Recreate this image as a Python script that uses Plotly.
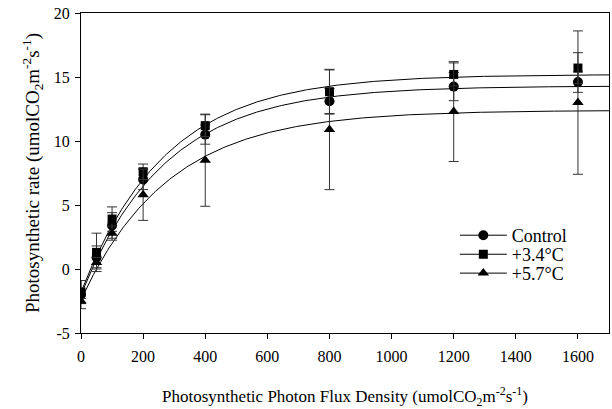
import numpy as np
import plotly.graph_objects as go

# ---- data ----
ppfd = [0, 50, 100, 200, 400, 800, 1200, 1600]

control = [-2.0, 0.9, 3.4, 7.0, 10.5, 13.1, 14.25, 14.6]
control_err = [1.1, 0.9, 1.0, 0.8, 0.75, 1.0, 1.1, 0.8]

warm34 = [-1.8, 1.3, 3.9, 7.6, 11.2, 13.85, 15.2, 15.7]
warm34_err = [0.9, 1.5, 0.95, 0.6, 0.85, 1.7, 0.9, 1.2]

warm57 = [-2.5, 0.5, 2.8, 5.8, 8.5, 10.9, 12.3, 13.0]
warm57_err = [0.2, 0.4, 0.55, 2.0, 3.6, 4.7, 3.9, 5.6]

series_names = ["Control", "+3.4\u00b0C", "+5.7\u00b0C"]
symbols = ["circle", "square", "triangle-up"]
legend_ids = ["legend", "legend2", "legend3"]

# light-response fit parameters (P = P0 + Pmax*(1-exp(-k*I)))
fit_p0 = [-2.0, -1.8, -2.4]
fit_pmax = [16.3, 17.0, 14.8]
fit_k = [0.00367, 0.00365, 0.00354]

x_tick_vals = [0, 200, 400, 600, 800, 1000, 1200, 1400, 1600]
x_tick_text = ["0", "200", "400", "600", "800", "1000", "1200", "1400", "1600"]
y_tick_vals = [-5, 0, 5, 10, 15, 20]
y_tick_text = ["-5", "0", "5", "10", "15", "20"]

FONT = "Liberation Serif, Times New Roman, serif"

fig = go.Figure()

xfit = np.linspace(0, 1700, 341)
for p0, pm, k in zip(fit_p0, fit_pmax, fit_k):
    fig.add_trace(go.Scatter(x=xfit, y=p0 + pm * (1 - np.exp(-k * xfit)),
                             mode="lines", line=dict(color="black", width=1),
                             showlegend=False, hoverinfo="skip"))

for ys, es, sym, nm, lg in zip([control, warm34, warm57],
                               [control_err, warm34_err, warm57_err],
                               symbols, series_names, legend_ids):
    size = 10 if sym != "square" else 9
    fig.add_trace(go.Scatter(
        x=ppfd, y=ys, mode="markers",
        marker=dict(symbol=sym, size=size, color="black"),
        error_y=dict(type="data", array=es, visible=True, color="#333333",
                     thickness=1, width=5),
        showlegend=False, name=nm))
    fig.add_trace(go.Scatter(
        x=[None], y=[None], mode="lines+markers", name=nm, legend=lg,
        marker=dict(symbol=sym, size=size, color="black"),
        line=dict(color="black", width=1)))

leg_common = dict(x=0.708, xanchor="left", yanchor="top",
                  font=dict(size=18, family=FONT), itemwidth=47,
                  bgcolor="rgba(0,0,0,0)")
fig.update_layout(
    width=612, height=409,
    margin=dict(l=81, r=3, t=13, b=76),
    paper_bgcolor="white", plot_bgcolor="white",
    font=dict(family=FONT, size=15, color="black"),
    legend=dict(y=0.3625, **leg_common),
    legend2=dict(y=0.303, **leg_common),
    legend3=dict(y=0.244, **leg_common),
)
fig.update_xaxes(
    range=[0, 1700], tickvals=x_tick_vals, ticktext=x_tick_text,
    ticks="outside", ticklen=5, ticklabelstandoff=4,
    tickwidth=1, tickcolor="black", showgrid=False, zeroline=False,
    showline=True, linecolor="black", linewidth=1, mirror=True,
    tickfont=dict(size=16, family=FONT),
    title=dict(text="Photosynthetic Photon Flux Density (umolCO<sub>2</sub>m<sup>-2</sup>s<sup>-1</sup>)",
               font=dict(size=17, family=FONT), standoff=26),
)
fig.update_yaxes(
    range=[-5, 20], tickvals=y_tick_vals, ticktext=y_tick_text,
    ticks="outside", ticklen=5, ticklabelstandoff=2,
    tickwidth=1, tickcolor="black", showgrid=False, zeroline=False,
    showline=True, linecolor="black", linewidth=1, mirror=True,
    tickfont=dict(size=16, family=FONT),
    title=dict(text="Photosynthetic rate (umolCO<sub>2</sub>m<sup>-2</sup>s<sup>-1</sup>)",
               font=dict(size=19, family=FONT), standoff=9),
)

fig.write_html("out.html")
